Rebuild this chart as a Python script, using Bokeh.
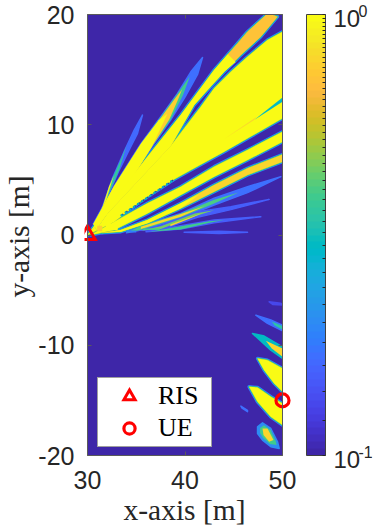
from math import pi
from bokeh.embed import file_html
from bokeh.resources import INLINE
from bokeh.plotting import figure
from bokeh.models import (ColumnDataSource, LinearAxis, FixedTicker, ColorBar, LogColorMapper,
                          LogTicker, Label, Legend, LegendItem, Range1d, Title)

# MATLAB parula colormap
parula_rgb = [
(0.2422,0.1504,0.6603),(0.2504,0.1650,0.7076),(0.2578,0.1818,0.7511),(0.2647,0.1978,0.7952),
(0.2706,0.2147,0.8364),(0.2751,0.2342,0.8710),(0.2783,0.2559,0.8991),(0.2803,0.2782,0.9221),
(0.2813,0.3006,0.9414),(0.2810,0.3228,0.9579),(0.2795,0.3447,0.9717),(0.2760,0.3667,0.9829),
(0.2699,0.3892,0.9906),(0.2602,0.4123,0.9952),(0.2440,0.4358,0.9988),(0.2206,0.4603,0.9973),
(0.1963,0.4847,0.9892),(0.1834,0.5074,0.9798),(0.1786,0.5289,0.9682),(0.1764,0.5499,0.9520),
(0.1687,0.5703,0.9359),(0.1540,0.5902,0.9218),(0.1460,0.6091,0.9079),(0.1380,0.6276,0.8973),
(0.1248,0.6459,0.8883),(0.1113,0.6635,0.8763),(0.0952,0.6798,0.8598),(0.0689,0.6948,0.8394),
(0.0297,0.7082,0.8163),(0.0036,0.7203,0.7917),(0.0067,0.7312,0.7660),(0.0433,0.7411,0.7394),
(0.0964,0.7500,0.7120),(0.1408,0.7584,0.6842),(0.1717,0.7670,0.6554),(0.1938,0.7758,0.6251),
(0.2161,0.7843,0.5923),(0.2470,0.7918,0.5567),(0.2906,0.7973,0.5188),(0.3406,0.8008,0.4789),
(0.3909,0.8029,0.4354),(0.4456,0.8024,0.3909),(0.5044,0.7993,0.3480),(0.5616,0.7942,0.3045),
(0.6174,0.7876,0.2612),(0.6720,0.7793,0.2227),(0.7242,0.7698,0.1910),(0.7738,0.7598,0.1646),
(0.8203,0.7498,0.1535),(0.8634,0.7406,0.1596),(0.9035,0.7330,0.1774),(0.9393,0.7288,0.2100),
(0.9728,0.7298,0.2394),(0.9956,0.7434,0.2371),(0.9970,0.7659,0.2199),(0.9952,0.7861,0.1996),
(0.9892,0.8136,0.1885),(0.9786,0.8387,0.1768),(0.9676,0.8620,0.1649),(0.9610,0.8901,0.1537),
(0.9597,0.9170,0.1423),(0.9628,0.9373,0.1265),(0.9691,0.9606,0.1064),(0.9769,0.9839,0.0805)]
parula = ["#%02x%02x%02x" % tuple(int(round(c*255)) for c in t) for t in parula_rgb]

x_ticks = [30, 40, 50]
y_ticks = [-20, -10, 0, 10, 20]
ris = (30, 0)
ue = (50, -15)

# Beam footprints: (level, xs, ys); later layers lie on top
beam_a = (0.16, [31.44,32.56,33.76,34.79,35.64,35.13,34.27,33.25,32.22,31.54], [2.27,5.14,7.56,9.52,10.88,9.22,7.71,5.89,3.78,1.96])
beam_a2 = (0.36, [31.44,32.56,33.5,34.0,33.25,32.22,31.54], [2.27,5.14,7.0,8.1,5.89,3.78,1.96])
beam_a3 = (0.95, [31.44,32.2,32.7,32.1,31.54], [2.27,4.4,5.4,3.7,1.96])
beam_b = (0.17, [30.6,32.7,35.5,37.5,39.2,40.6,41.8,41.3,40.0,38.5,36.6,34.6,32.8,30.9], [1.0,4.4,8.3,10.7,12.8,14.8,16.1,14.6,12.5,10.4,8.0,5.2,2.9,0.5])
beam_b1 = (0.38, [30.6,32.7,35.5,37.5,39.2,40.5,39.8,38.5,36.6,34.6,32.8,30.9], [1.0,4.4,8.3,10.7,12.8,14.4,12.7,10.4,8.0,5.2,2.9,0.5])
beam_b2 = (0.75, [30.6,32.7,35.5,37.5,39.0,39.7,39.2,38.4,36.6,34.6,32.8,30.9], [1.0,4.4,8.3,10.6,12.4,13.2,12.1,10.5,8.0,5.2,2.9,0.5])
beam_b3 = (1.0, [30.6,32.7,35.5,37.3,38.2,36.6,34.6,32.8,30.9], [1.0,4.4,8.3,10.4,11.0,8.0,5.2,2.9,0.5])
beam_c = (0.72, [30,33.76,36.15,39.57,42.99,45.38,46.41,48.3,49.0,49.49,47.78,45.73,44.02,42.31,40.94,38.55],
          [0,4.4,7.1,10.88,14.96,17.38,18.44,19.95,19.95,19.8,17.99,16.32,14.81,13.15,11.79,8.1])
beam_c2 = (1.0, [30,33.76,36.15,39.57,42.99,44.4,45.2,44.02,42.31,40.94,38.55],
          [0,4.4,7.1,10.88,14.96,16.4,15.7,14.81,13.15,11.79,8.1])
beam_m = (1.0, [30,38.55,41.62,42.99,44.70,46.41,48.46,50,50,44.02,40.6,38.89,35.47,32.74],
          [0,8.1,11.64,13.3,14.81,16.17,17.68,18.44,10.58,7.56,5.89,5.05,3.08,1.21])
beam_d = (1.0, [30.3,32.74,36.15,39.57,42.99,46.41,50,50,46.41,42.99,39.57,36.15,32.74],
          [0,1.21,2.87,4.38,6.2,7.71,9.37,8.46,6.8,5.29,3.63,1.96,0.45])
beam_e = (0.8, [31.5,33.42,36.15,39.57,42.99,46.41,50,50,46.41,42.99,39.57,36.15,33.42],
          [0.2,0.45,1.36,2.87,4.53,6.05,7.3,6.65,5.44,3.93,2.42,1.06,0.3])
beam_e2 = (1.0, [31.5,33.42,36.15,39.57,41.5,39.57,36.15,33.42], [0.2,0.45,1.36,2.87,3.7,2.42,1.06,0.3])
beam_f = (0.17, [34,35.47,39.57,42.99,46.41,49.83,46.41,42.99,39.57,35.47], [0.2,0.82,1.96,3.33,4.38,5.29,3.84,2.72,1.51,0.45])
beam_f2 = (0.4, [34,35.47,39.57,42.99,45.5,42.99,39.57,35.47], [0.2,0.82,1.96,3.2,3.85,2.85,1.61,0.45])
beam_f3 = (0.8, [35.47,39.57,42.0,39.57,35.47], [0.75,1.9,2.6,1.65,0.55])
beam_g = (0.15, [34.6,37.52,41.28,44.70,48.63,44.70,41.28,37.52], [0.4,0.85,2.1,2.57,3.23,2.3,1.6,0.5])
beam_g2 = (0.45, [35.5,37.52,41.0,43.0,41.0,37.52], [0.4,0.8,1.95,2.25,1.7,0.55])
beam_g3 = (0.8, [38.5,41.0,41.8,40.5,38.5], [0.95,1.75,2.0,1.5,0.8])
beam_h = (0.15, [36.0,39.57,42.99,47.78,42.99,39.57], [0.3,0.85,1.36,1.66,1.1,0.55])
beam_h2 = (0.38, [36.4,39.57,42.5,44.0,42.5,39.57], [0.3,0.8,1.25,1.35,1.1,0.5])
beam_i = (0.15, [39.91,43.5,46.41,43.5], [0.24,0.33,0.24,0.13])
near_1 = (1.0, [31.9,32.4,32.4,31.9], [0.55,0.55,1.3,1.3])
near_2 = (1.0, [32.7,33.1,33.1,32.7], [0.45,0.45,1.1,1.1])
near_3 = (0.19, [34.0,35.0,35.0,34.0], [0.22,0.22,0.4,0.4])
near_4 = (0.38, [35.7,37.4,37.4,35.7], [0.45,0.45,0.6,0.6])
near_5 = (0.75, [31.0,31.5,31.5,31.0], [0.35,0.35,0.85,0.85])

blob_1 = (0.13, [48.63,49.83,50,49.0], [-6.06,-6.2,-6.36,-6.3])
blob_2 = (0.17, [47.26,48.8,50,50,48.46], [-7.27,-7.7,-8.17,-8.69,-8.02])
blob_2b = (0.34, [48.9,50,50,49.2], [-7.85,-8.25,-8.6,-8.2])
blob_3 = (0.3, [46.92,48.12,50,50,48.8], [-8.93,-9.17,-10.14,-11.2,-10.44])
blob_3b = (0.8, [48.29,50,50,48.9], [-9.6,-10.29,-11.05,-10.3])
blob_4 = (1.0, [47.44,48.46,50,50,49.15,48.12], [-11.2,-11.35,-12.1,-14.22,-13.46,-12.26])
blob_5 = (1.0, [46.58,47.44,48.8,50,50,48.8,47.44], [-13.77,-13.83,-14.67,-15.28,-17.24,-16.49,-15.13])
blob_6 = (0.17, [45.73,46.41,46.41,45.85], [-15.52,-15.9,-16.03,-15.7])
blob_7 = (0.2, [47.44,47.95,48.8,49.49,49.66,48.8,47.95,47.44], [-17.39,-17.03,-17.55,-18.75,-19.36,-19.21,-18.6,-18.0])
blob_7a = (0.38, [47.7,48.1,48.8,49.3,49.4,48.7,48.0,47.7], [-17.5,-17.25,-17.7,-18.7,-19.05,-18.95,-18.4,-17.95])
blob_7b = (0.8, [47.95,48.46,49.08,48.63,48.05], [-17.55,-17.55,-18.6,-18.75,-18.15])

cold_layers = [beam_a, beam_b, beam_f, beam_g, beam_h, beam_i, blob_1, blob_2, blob_3, blob_6, blob_7]
hot_layers = [beam_c, beam_m, beam_d, beam_e, blob_4, blob_5]
warm_layers = [beam_a2, beam_a3, beam_b1, beam_b2, beam_b3, beam_c2, beam_e2, beam_f2, beam_f3, beam_g2, beam_g3,
               beam_h2, near_1, near_2, near_3, near_4, near_5, blob_2b, blob_3b, blob_7a, blob_7b]

# Slits of lower level cut through the main lobe
slit_1 = (0.3, [50,50,47.09], [12.48,12.09,10.43])
slit_2 = (0.78, [47.09,47.3,44.02], [10.43,10.7,8.7])
slit_layers = [slit_1, slit_2]

# Dotted ripple between the main lobe and the next one
ripple_x = [33.42, 38.89]
ripple_y = [1.75, 5.05]

mapper = LogColorMapper(palette=parula, low=0.1, high=1.0)

FRAME_L, FRAME_R, FRAME_T, FRAME_B = 84, 372, 2, 470
PX_X, PX_Y = 9.75, 11.025
x_lo = 30 - (87 - FRAME_L) / PX_X
x_hi = 30 + (FRAME_R - 87) / PX_X
y_hi = 20 + (14 - FRAME_T) / PX_Y
y_lo = -20 - (FRAME_B - 455) / PX_Y

p = figure(width=374, height=530, output_backend="svg", toolbar_location=None,
           x_range=Range1d(x_lo, x_hi), y_range=Range1d(y_lo, y_hi),
           x_axis_type=None, y_axis_type=None,
           min_border_left=FRAME_L, min_border_right=374 - FRAME_R, min_border_top=FRAME_T, min_border_bottom=530 - FRAME_B,
           frame_width=FRAME_R - FRAME_L, frame_height=FRAME_B - FRAME_T)
p.outline_line_color = None
p.grid.visible = False
p.background_fill_color = "white"


def src(layers):
    return ColumnDataSource(dict(v=[l[0] for l in layers], xs=[l[1] for l in layers], ys=[l[2] for l in layers]))


p.quad(left=[30], right=[50], bottom=[-20], top=[20], fill_color=parula[0], line_color=None)

fill = dict(field="v", transform=mapper)
p.patches("xs", "ys", source=src(cold_layers), fill_color=fill, line_color=fill, line_width=1.5, line_join="round")
s_hot = src(hot_layers)
p.patches("xs", "ys", source=s_hot, fill_color=None, line_color=parula[14], line_width=3.4, line_join="round")
p.patches("xs", "ys", source=s_hot, fill_color=None, line_color=parula[30], line_width=2.2, line_join="round")
p.patches("xs", "ys", source=s_hot, fill_color=None, line_color=parula[44], line_width=1, line_join="round")
p.patches("xs", "ys", source=s_hot, fill_color=fill, line_color=None)
p.patches("xs", "ys", source=src(warm_layers), fill_color=fill, line_color=None)
p.patches("xs", "ys", source=src(slit_layers), fill_color=fill, line_color=None)
p.line(ripple_x, ripple_y, line_color=parula[0], line_width=1.5, line_dash="3 2")
p.line(ripple_x, ripple_y, line_color=parula[30], line_width=2, line_dash="2 3")

# masks keep halos inside the axes box
p.quad(left=[50], right=[x_hi], bottom=[y_lo], top=[y_hi], fill_color="white", line_color=None)
p.quad(left=[x_lo], right=[30], bottom=[y_lo], top=[y_hi], fill_color="white", line_color=None)
p.quad(left=[30], right=[50], bottom=[20], top=[y_hi], fill_color="white", line_color=None)

tri = p.scatter([ris[0]], [ris[1]], marker="triangle", size=15.5, fill_color=None, line_color="#ff0000", line_width=3, line_join="miter")
cir = p.scatter([ue[0]], [ue[1]], marker="circle", size=13, fill_color=None, line_color="#ff0000", line_width=3.2)

AX = "#5a5a5a"
tick_font = "Liberation Sans"
serif = "Liberation Serif"


def overrides(t):
    return {k: str(k) for k in t}


def box_axis(ticks, **kw):
    return LinearAxis(ticker=FixedTicker(ticks=ticks), major_label_text_color=None, major_label_text_font_size="0px",
                      axis_line_color=AX, major_tick_line_color=AX, major_tick_in=4, major_tick_out=0,
                      minor_tick_line_color=None, major_label_standoff=0, **kw)


# labelled axes lie at the outer frame edge; ticks and box lines are separate axes
left = LinearAxis(ticker=FixedTicker(ticks=y_ticks), major_label_overrides=overrides(y_ticks),
                  major_label_text_font=tick_font, major_label_text_font_size="25px", major_label_text_color="#262626",
                  axis_line_color=None, major_tick_line_color=None, major_tick_in=0, major_tick_out=0,
                  minor_tick_line_color=None, major_label_standoff=10)
p.add_layout(left, "left")
p.add_layout(Title(text="y-axis [m]", align="center", standoff=1, text_font=serif, text_font_size="29.5px",
                   text_font_style="normal", text_color="#262626"), "left")
p.add_layout(box_axis(y_ticks, fixed_location=30, bounds=(-20, 20)), "left")
p.add_layout(box_axis(y_ticks, fixed_location=50, bounds=(-20, 20)), "right")
p.add_layout(box_axis(x_ticks, fixed_location=-20, bounds=(30, 50)), "below")
p.add_layout(box_axis(x_ticks, fixed_location=20, bounds=(30, 50)), "above")
bottom = LinearAxis(ticker=FixedTicker(ticks=x_ticks), major_label_overrides=overrides(x_ticks),
                    major_label_text_font=tick_font, major_label_text_font_size="25px", major_label_text_color="#262626",
                    axis_line_color=None, major_tick_line_color=None, major_tick_in=0, major_tick_out=0,
                    minor_tick_line_color=None, major_label_standoff=0)
p.add_layout(bottom, "below")
p.add_layout(Title(text="x-axis [m]", align="left", offset=39, standoff=0, text_font=serif, text_font_size="29.5px",
                   text_font_style="normal", text_color="#262626"), "below")

cb = ColorBar(color_mapper=mapper, ticker=LogTicker(), width=19, height=441, location=(306 - FRAME_L, FRAME_B - 455), margin=0, padding=0,
              major_tick_line_color=None, minor_tick_line_color="#262626", minor_tick_in=3, minor_tick_out=0,
              major_label_text_color=None, major_label_text_font_size="1px", bar_line_color="#404040", bar_line_width=1,
              border_line_color=None, background_fill_color=None)
p.add_layout(cb, "center")


def px_x(px):
    return 30 + (px - 87) / PX_X


def px_y(py):
    return 20 - (py - 14) / PX_Y


def label(text, px, py, size, font):
    p.add_layout(Label(x=px_x(px), y=px_y(py), text=text, text_font=font, text_font_size=size, text_color="#262626",
                       text_align="left", text_baseline="middle"))


label("10", 333, 18, "24px", tick_font)
label("0", 358, 10, "16px", tick_font)
label("10", 333, 459, "24px", tick_font)
label("-1", 358, 451, "16px", tick_font)

legend = Legend(items=[LegendItem(label="RIS", renderers=[tri]), LegendItem(label="UE", renderers=[cir])],
                location=(97 - FRAME_L, FRAME_B - 447), padding=3, margin=0, spacing=2, glyph_width=56, glyph_height=28,
                label_height=28, label_width=50, label_standoff=1, label_text_font=serif, label_text_font_size="26px",
                label_text_color="#000000", border_line_color="#404040", border_line_width=1, background_fill_alpha=1.0)
p.add_layout(legend, "center")

open("out.html", "w").write(file_html(p, INLINE))
